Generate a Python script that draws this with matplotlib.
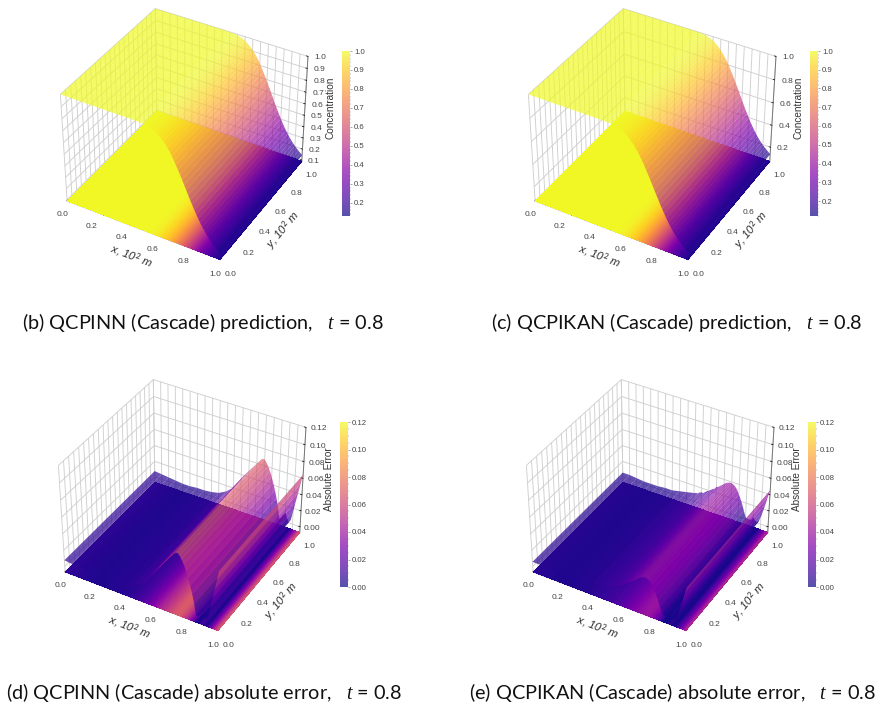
import numpy as np
import matplotlib
matplotlib.use("Agg")
import matplotlib.pyplot as plt
from matplotlib.cm import ScalarMappable
from matplotlib.colors import Normalize

plt.rcParams["font.family"] = ["Liberation Sans", "DejaVu Sans"]
plt.rcParams["mathtext.fontset"] = "custom"
plt.rcParams["mathtext.rm"] = "Lato"
plt.rcParams["mathtext.it"] = "Liberation Serif:italic"

FIG_W, FIG_H = 881, 709

x_nodes = [
    0.0, 0.05, 0.1, 0.15, 0.2, 0.25, 0.3, 0.35, 0.4, 0.45,
    0.5, 0.5125, 0.525, 0.5375, 0.55, 0.5625, 0.575, 0.5875, 0.6, 0.6125,
    0.625, 0.6375, 0.65, 0.6625, 0.675, 0.6875, 0.7, 0.7125, 0.725, 0.7375,
    0.75, 0.7625, 0.775, 0.7875, 0.8, 0.8125, 0.825, 0.8375, 0.85, 0.8625,
    0.875, 0.8875, 0.9, 0.9125, 0.925, 0.9375, 0.95, 0.9625, 0.975, 0.9875, 1.0,
]
y_nodes = [0.0, 1.0]

conc_qcpinn = [
    1.0, 1.0, 1.0, 1.0, 1.0, 1.0, 1.0, 1.0, 1.0, 1.0,
    0.999, 0.998, 0.997, 0.995, 0.992, 0.988, 0.982, 0.975, 0.966, 0.955,
    0.942, 0.927, 0.91, 0.89, 0.868, 0.844, 0.815, 0.785, 0.752, 0.72,
    0.686, 0.65, 0.614, 0.578, 0.54, 0.505, 0.47, 0.436, 0.403, 0.372,
    0.342, 0.315, 0.29, 0.266, 0.244, 0.224, 0.206, 0.19, 0.174, 0.16, 0.145,
]
conc_qcpikan = [
    1.0, 1.0, 1.0, 1.0, 1.0, 1.0, 1.0, 1.0, 1.0, 1.0,
    0.999, 0.998, 0.997, 0.995, 0.992, 0.988, 0.982, 0.975, 0.966, 0.955,
    0.942, 0.926, 0.908, 0.888, 0.865, 0.84, 0.812, 0.782, 0.75, 0.716,
    0.682, 0.646, 0.61, 0.572, 0.535, 0.5, 0.463, 0.43, 0.396, 0.364,
    0.334, 0.306, 0.28, 0.256, 0.234, 0.214, 0.196, 0.18, 0.165, 0.15, 0.135,
]
err_qcpinn = [
    0.0075, 0.0065, 0.0055, 0.0045, 0.0035, 0.0035, 0.0045, 0.0045, 0.0055, 0.0075,
    0.0125, 0.0145, 0.0165, 0.0185, 0.0215, 0.0245, 0.0275, 0.0305, 0.0345, 0.0375,
    0.0415, 0.0445, 0.0475, 0.0505, 0.0535, 0.0565, 0.0595, 0.0625, 0.0655, 0.0675,
    0.0675, 0.0645, 0.0605, 0.0555, 0.0495, 0.0425, 0.0345, 0.0255, 0.0145, 0.0015,
    0.001, 0.0045, 0.0115, 0.0055, 0.001, 0.0045, 0.0165, 0.0285, 0.0405, 0.0525, 0.0645,
]
err_qcpikan = [
    0.0055, 0.0055, 0.0045, 0.0035, 0.0035, 0.0035, 0.0045, 0.0045, 0.0065, 0.0085,
    0.0105, 0.0115, 0.0115, 0.0135, 0.0145, 0.0145, 0.0165, 0.0185, 0.0195, 0.0215,
    0.0235, 0.0245, 0.0275, 0.0285, 0.0305, 0.0325, 0.0345, 0.0365, 0.0375, 0.0385,
    0.0385, 0.0375, 0.0355, 0.0325, 0.0275, 0.0225, 0.0165, 0.0095, 0.0025, 0.001,
    0.001, 0.0015, 0.0055, 0.0025, 0.001, 0.0025, 0.0095, 0.0175, 0.0265, 0.0365, 0.0455,
]

conc_ticks = [0.1, 0.2, 0.3, 0.4, 0.5, 0.6, 0.7, 0.8, 0.9, 1.0]
conc_ticks_coarse = [0.2, 0.4, 0.6, 0.8, 1.0]
conc_bar_ticks = [0.2, 0.3, 0.4, 0.5, 0.6, 0.7, 0.8, 0.9, 1.0]
err_ticks = [0.0, 0.02, 0.04, 0.06, 0.08, 0.10, 0.12]
plane_ticks = [0.0, 0.05, 0.1, 0.15, 0.2, 0.25, 0.3, 0.35, 0.4, 0.45, 0.5,
               0.55, 0.6, 0.65, 0.7, 0.75, 0.8, 0.85, 0.9, 0.95, 1.0]

captions = [
    r"(b) QCPINN (Cascade) prediction,   $\mathit{t}$ = 0.8",
    r"(c) QCPIKAN (Cascade) prediction,   $\mathit{t}$ = 0.8",
    r"(d) QCPINN (Cascade) absolute error,   $\mathit{t}$ = 0.8",
    r"(e) QCPIKAN (Cascade) absolute error,   $\mathit{t}$ = 0.8",
]

BOX_SIZE = 274


def px_rect(left, top, width, height):
    """Convert a pixel box measured from the top left into figure fractions."""
    return [left / FIG_W, 1 - (top + height) / FIG_H, width / FIG_W, height / FIG_H]


def style_axis(axis):
    axis.set_pane_color((1, 1, 1, 0))
    axis.pane.set_edgecolor("#bdbdbd")
    axis.line.set_color("#777777")
    axis.line.set_linewidth(0.7)
    axis._axinfo["grid"].update(color="#cfcfcf", linewidth=0.65)
    axis._axinfo["tick"].update(inward_factor=0.0, outward_factor=0.12)
    axis._axinfo["tick"]["linewidth"] = {True: 0.5, False: 0.5}
    axis._axinfo["tick"]["color"] = "#666666"


def plane_labels(ticks):
    return [f"{t:.1f}" if round(t * 100) % 20 == 0 else "" for t in ticks]


def draw_panel(fig, origin, values, zlim, zticks, zfmt, bar_range, bar_ticks, zlabel, caption, cap_x, cap_y):
    ox, oy = origin
    ax = fig.add_axes(px_rect(ox + 182.7 - BOX_SIZE / 2, oy + 133 - BOX_SIZE / 2, BOX_SIZE, BOX_SIZE),
                      projection="3d", computed_zorder=False)
    ax.patch.set_alpha(0)
    ax.view_init(elev=37, azim=-60)

    X, Y = np.meshgrid(np.array(x_nodes), np.array(y_nodes))
    Z = np.tile(np.array(values), (len(y_nodes), 1))
    norm = Normalize(vmin=bar_range[0], vmax=bar_range[1])

    # flat map on the floor, then the see-through surface above it
    ax.contourf(X, Y, Z, levels=np.linspace(bar_range[0], bar_range[1], 120),
                zdir="z", offset=zlim[0], cmap="plasma", norm=norm, zorder=1, extend="both")
    ax.plot_surface(X, Y, Z, cmap="plasma", norm=norm, rstride=1, cstride=1, alpha=0.7,
                    linewidth=0, antialiased=True, shade=False, zorder=2)

    ax.set_xlim(0, 1, view_margin=0)
    ax.set_ylim(0, 1, view_margin=0)
    ax.set_zlim(zlim[0], zlim[1], view_margin=0)

    ax.set_xticks(plane_ticks)
    ax.set_xticklabels(plane_labels(plane_ticks))
    ax.set_yticks(plane_ticks)
    ax.set_yticklabels(plane_labels(plane_ticks))
    ax.set_zticks(zticks)
    ax.set_zticklabels([zfmt.format(t) for t in zticks])
    ax.tick_params(axis="x", labelsize=6, labelcolor="#444444", pad=-2.5)
    ax.tick_params(axis="y", labelsize=6, labelcolor="#444444", pad=-1)
    ax.tick_params(axis="z", labelsize=6, labelcolor="#444444", pad=-2.5)
    for axis in (ax.xaxis, ax.yaxis, ax.zaxis):
        style_axis(axis)

    # axis names sit at fixed spots beside the box
    fig.text((ox + 131) / FIG_W, 1 - (oy + 256) / FIG_H, "x, 10$^2$ m", rotation=-21, style="italic",
             fontsize=8.2, color="#2b2b2b", ha="center", va="center")
    fig.text((ox + 283) / FIG_W, 1 - (oy + 230) / FIG_H, "y, 10$^2$ m", rotation=50, style="italic",
             fontsize=8.2, color="#2b2b2b", ha="center", va="center")
    fig.text((ox + 331) / FIG_W, 1 - (oy + 108) / FIG_H, zlabel, rotation=90,
             fontsize=7.2, color="#333333", ha="center", va="center")

    cax = fig.add_axes(px_rect(ox + 342, oy + 51, 8, 165))
    sm = ScalarMappable(norm=norm, cmap="plasma")
    cb = fig.colorbar(sm, cax=cax, alpha=0.7)
    cb.set_ticks(bar_ticks)
    cb.ax.set_yticklabels([zfmt.format(t) for t in bar_ticks])
    cb.minorticks_on()
    cb.outline.set_linewidth(0)
    cb.ax.tick_params(which="major", labelsize=5.6, labelcolor="#444444", length=1.5, width=0.4, pad=1.5, color="#666666")
    cb.ax.tick_params(which="minor", length=1, width=0.3, color="#666666")

    fig.text(cap_x / FIG_W, 1 - cap_y / FIG_H, caption, family=["Lato", "DejaVu Sans"], fontsize=14.3,
             color="#111111", ha="left", va="center")
    return ax


def main():
    fig = plt.figure(figsize=(FIG_W / 100, FIG_H / 100), dpi=100, facecolor="white")
    draw_panel(fig, (0, 0), conc_qcpinn, (0.09, 1.0), conc_ticks, "{:.1f}", (0.13, 1.0),
               conc_bar_ticks, "Concentration", captions[0], 22, 322)
    draw_panel(fig, (468, 0), conc_qcpikan, (0.07, 1.0), conc_ticks_coarse, "{:.1f}", (0.12, 1.0),
               conc_bar_ticks, "Concentration", captions[1], 491, 322)
    draw_panel(fig, (-2, 371), err_qcpinn, (-0.007, 0.12), err_ticks, "{:.2f}", (0.0, 0.12),
               err_ticks, "Absolute Error", captions[2], 6, 693)
    draw_panel(fig, (466, 371), err_qcpikan, (-0.007, 0.12), err_ticks, "{:.2f}", (0.0, 0.12),
               err_ticks, "Absolute Error", captions[3], 469, 693)
    fig.savefig("out.png", dpi=100)


if __name__ == "__main__":
    main()
